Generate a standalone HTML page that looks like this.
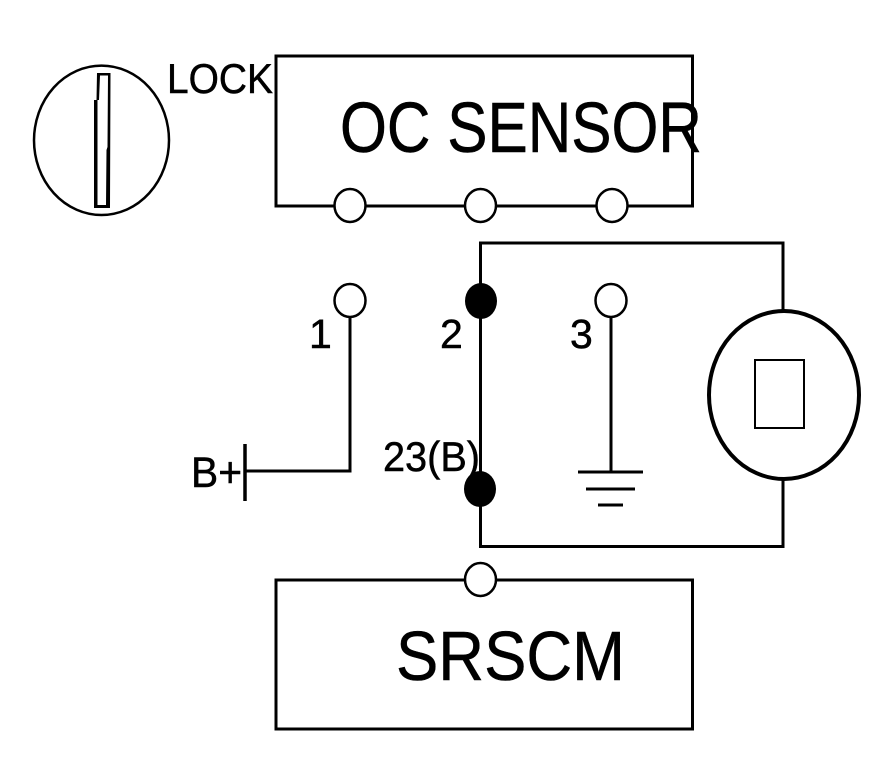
<!DOCTYPE html>
<html>
<head>
<meta charset="utf-8">
<style>
html,body{margin:0;padding:0;background:#fff;width:896px;height:784px;overflow:hidden}
svg{display:block}
text{font-family:"Liberation Sans",sans-serif;fill:#000;stroke:#000;stroke-width:0.5px}
</style>
</head>
<body>
<svg width="896" height="784" viewBox="0 0 896 784" xmlns="http://www.w3.org/2000/svg">
<!-- Lock -->
<ellipse cx="101.5" cy="140.3" rx="67.5" ry="74.7" fill="#fff" stroke="#000" stroke-width="2.5"/>
<polygon points="97,73 110.5,73 110,208 94,208 94,100 96.5,100" fill="#000"/>
<polygon points="100,75.5 108,75.5 107.5,147 106.5,150 106,205 97.5,205 97.5,100 99,100" fill="#fff"/>
<text x="167" y="93" font-size="42" textLength="106" lengthAdjust="spacingAndGlyphs">LOCK</text>
<!-- OC sensor box -->
<rect x="276" y="56" width="416.5" height="150" fill="none" stroke="#000" stroke-width="3"/>
<text x="340" y="152" font-size="71" textLength="362" lengthAdjust="spacingAndGlyphs">OC SENSOR</text>
<ellipse cx="350" cy="205.5" rx="15.5" ry="16.5" fill="#fff" stroke="#000" stroke-width="2.5"/>
<ellipse cx="480.5" cy="205.5" rx="15.5" ry="16.5" fill="#fff" stroke="#000" stroke-width="2.5"/>
<ellipse cx="612" cy="205.5" rx="15.5" ry="16.5" fill="#fff" stroke="#000" stroke-width="2.5"/>
<!-- Wires -->
<polyline points="350,315 350,471 245,471" fill="none" stroke="#000" stroke-width="3"/>
<line x1="245" y1="444" x2="245" y2="501" stroke="#000" stroke-width="3.5"/>
<polyline points="480.5,489 480.5,546.5 783,546.5 783,478" fill="none" stroke="#000" stroke-width="3"/>
<polyline points="480.5,489 480.5,243 783,243 783,312" fill="none" stroke="#000" stroke-width="3"/>
<line x1="611" y1="315" x2="611" y2="472" stroke="#000" stroke-width="3"/>
<!-- Ground -->
<line x1="578" y1="472" x2="643" y2="472" stroke="#000" stroke-width="3"/>
<line x1="586" y1="489" x2="635" y2="489" stroke="#000" stroke-width="3"/>
<line x1="598" y1="505" x2="623" y2="505" stroke="#000" stroke-width="3"/>
<!-- Terminals -->
<ellipse cx="350" cy="300.5" rx="15.5" ry="16.5" fill="#fff" stroke="#000" stroke-width="2.5"/>
<ellipse cx="611" cy="300.5" rx="15.5" ry="16.5" fill="#fff" stroke="#000" stroke-width="2.5"/>
<ellipse cx="481" cy="301" rx="16" ry="18" fill="#000"/>
<ellipse cx="480" cy="489" rx="16" ry="18" fill="#000"/>
<!-- Labels -->
<text x="309" y="348" font-size="41">1</text>
<text x="440" y="348" font-size="41">2</text>
<text x="570" y="348" font-size="41">3</text>
<text x="383" y="471" font-size="42" textLength="97" lengthAdjust="spacingAndGlyphs">23(B)</text>
<text x="191" y="487" font-size="43" textLength="51" lengthAdjust="spacingAndGlyphs">B+</text>
<!-- Motor -->
<ellipse cx="784" cy="395" rx="75" ry="84" fill="#fff" stroke="#000" stroke-width="4"/>
<rect x="755" y="360" width="49" height="68" fill="#fff" stroke="#000" stroke-width="2"/>
<!-- SRSCM -->
<rect x="276" y="580" width="416.5" height="149" fill="none" stroke="#000" stroke-width="3"/>
<ellipse cx="480.5" cy="579.5" rx="15.5" ry="16.5" fill="#fff" stroke="#000" stroke-width="2.5"/>
<text x="396" y="680" font-size="70" textLength="229" lengthAdjust="spacingAndGlyphs">SRSCM</text>
</svg>
</body>
</html>
